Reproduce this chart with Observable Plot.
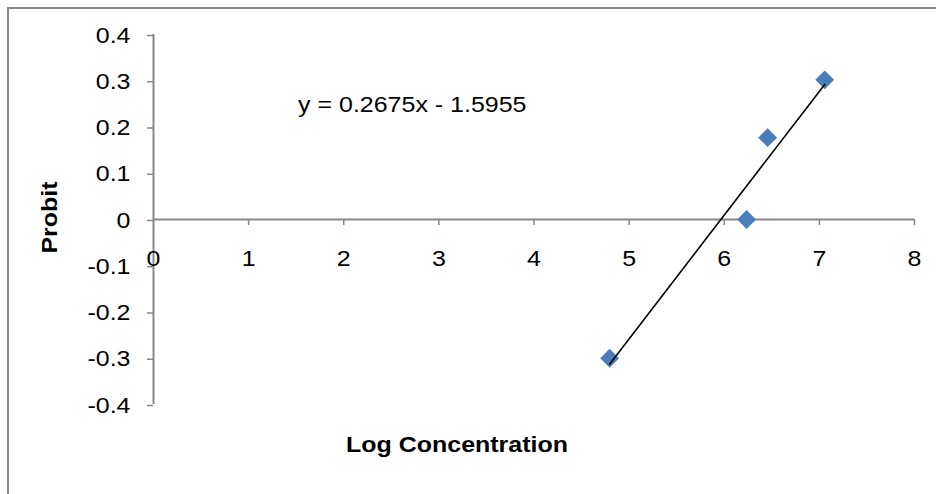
<!DOCTYPE html>
<html>
<head>
<meta charset="utf-8">
<script src="https://cdn.jsdelivr.net/npm/d3@7"></script>
<script src="https://cdn.jsdelivr.net/npm/@observablehq/plot@0.6"></script>
<style>
  html, body { margin: 0; padding: 0; background: #fff; }
  #wrap { position: relative; width: 936px; height: 494px; overflow: hidden; }
  #wrap svg { position: absolute; left: 0; top: 0; }
  #border { position: absolute; left: 7px; top: 7px; width: 960px; height: 520px;
            border-top: 2px solid #878787; border-left: 2px solid #878787; }
</style>
</head>
<body>
<div id="wrap"><div id="border"></div></div>
<script>
// ---- data ----
const logConc = [4.795, 6.235, 6.456, 7.056];
const probit  = [-0.300, 0.000, 0.177, 0.302];
const xTicks  = [0, 1, 2, 3, 4, 5, 6, 7, 8];
const yTicks  = [-0.4, -0.3, -0.2, -0.1, 0, 0.1, 0.2, 0.3, 0.4];
const slope = 0.2675;
const intercept = -1.5955;
const equationText = "y = 0.2675x - 1.5955";
const equationAt = [2.72, 0.247];
const xTitle = "Log Concentration";
const yTitle = "Probit";

// ---- tables built from the arrays ----
const points = logConc.map((x, i) => ({x, y: probit[i]}));
const trend = [d3.min(logConc), d3.max(logConc)].map(x => ({x, y: slope * x + intercept}));

const axisColor = "#878787";
const font = "'Liberation Sans', Arial, sans-serif";

const chart = Plot.plot({
  width: 936,
  height: 494,
  marginLeft: 153,
  marginRight: 22,
  marginTop: 34,
  marginBottom: 90,
  x: {domain: [0, 8], axis: null},
  y: {domain: [-0.4, 0.4], axis: null},
  style: {fontFamily: font, fontSize: "22px", color: "#000", background: "transparent"},
  marks: [
    // axis lines crossing at the origin
    Plot.ruleY([0], {stroke: axisColor, strokeWidth: 2}),
    Plot.ruleX([0], {stroke: axisColor, strokeWidth: 2}),
    // x tick marks hanging below y = 0
    Plot.ruleX(xTicks.slice(1), {x: d => d, y1: 0, y2: 0, insetBottom: -6, stroke: axisColor, strokeWidth: 1.5}),
    // y axis (ticks + labels)
    Plot.axisY(yTicks, {
      anchor: "left", tickSize: 6, tickPadding: 17, stroke: axisColor, strokeWidth: 1.5,
      fill: "#000", color: "#000", fontSize: 22, dy: 1,
      tickFormat: d => String(d), label: null
    }),
    // x tick labels under the zero line
    Plot.text(xTicks, {x: d => d, y: 0, dy: 39, text: d => String(d), fontSize: 22, fill: "#000"}),
    // data points
    Plot.dot(points, {x: "x", y: "y", symbol: "diamond2", r: 8.5, fill: "#4a7ebb", stroke: "none"}),
    // linear trendline
    Plot.line(trend, {x: "x", y: "y", stroke: "#000", strokeWidth: 1.6}),
    // equation
    Plot.text([equationText], {x: () => equationAt[0], y: () => equationAt[1], text: d => d, fontSize: 22, fill: "#000"}),
    // axis titles
    Plot.text([xTitle], {frameAnchor: "bottom", textAnchor: "middle", dx: -77, dy: 47, text: d => d, fontSize: 22, fontWeight: "bold", fill: "#000"}),
    Plot.text([yTitle], {frameAnchor: "left", textAnchor: "middle", dx: -104, dy: -2, rotate: -90, text: d => d, fontSize: 22, fontWeight: "bold", fill: "#000"})
  ]
});

document.getElementById("wrap").appendChild(chart);

// the reference's glyphs are drawn a little wider than Arial: widen text along its run
const stretch = 1.135;
chart.querySelectorAll("text").forEach(t => {
  const w = t.getComputedTextLength();
  if (w > 0) {
    t.setAttribute("textLength", (w * stretch).toFixed(2));
    t.setAttribute("lengthAdjust", "spacingAndGlyphs");
  }
});
</script>
</body>
</html>
